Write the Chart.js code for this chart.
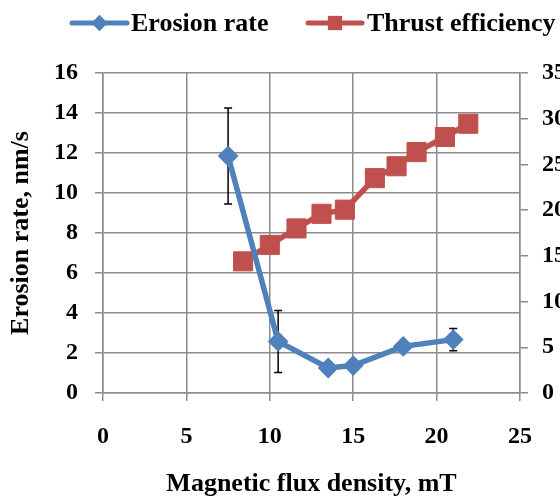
<!DOCTYPE html>
<html>
<head>
<meta charset="utf-8">
<script src="https://cdn.jsdelivr.net/npm/chart.js@4.4.1/dist/chart.umd.min.js"></script>
<style>
  html, body { margin: 0; padding: 0; background: #fff; overflow: hidden; }
  #wrap { width: 560px; height: 500px; overflow: hidden; }
</style>
</head>
<body>
<div id="wrap"><canvas id="graphique" width="600" height="500"></canvas></div>
<script>
// values
var erosionX = [7.5, 10.5, 13.5, 15, 18, 21];
var erosionY = [11.85, 2.58, 1.25, 1.37, 2.33, 2.67];
var erosionErr = [2.4, 1.55, 0, 0, 0, 0.56];

var thrustX = [8.4, 10.0, 11.6, 13.1, 14.5, 16.3, 17.6, 18.8, 20.5, 21.9];
var thrustY = [14.4, 16.2, 18.0, 19.6, 20.05, 23.5, 24.8, 26.35, 28.0, 29.45];

var seriesNames = ["Erosion rate", "Thrust efficiency"];
var xTitle = "Magnetic flux density, mT";
var yTitle = "Erosion rate, nm/s";

var blue = "#4F81BD";
var red = "#C0504D";
var gridCol = "#8c8c8c";
var fontFam = "'Liberation Serif', 'Times New Roman', serif";

function pts(xs, ys) {
  var out = [];
  for (var i = 0; i < xs.length; i++) out.push({ x: xs[i], y: ys[i] });
  return out;
}

// error bars under the markers
var errorBars = {
  id: "errorBars",
  beforeDatasetsDraw: function (chart) {
    var ctx = chart.ctx;
    var xs = chart.scales.x, ys = chart.scales.y;
    ctx.save();
    ctx.strokeStyle = "#000";
    ctx.lineWidth = 1.5;
    for (var i = 0; i < erosionX.length; i++) {
      if (!erosionErr[i]) continue;
      var px = xs.getPixelForValue(erosionX[i]);
      var top = ys.getPixelForValue(erosionY[i] + erosionErr[i]);
      var bot = ys.getPixelForValue(erosionY[i] - erosionErr[i]);
      ctx.beginPath();
      ctx.moveTo(px, top); ctx.lineTo(px, bot);
      ctx.moveTo(px - 4, top); ctx.lineTo(px + 4, top);
      ctx.moveTo(px - 4, bot); ctx.lineTo(px + 4, bot);
      ctx.stroke();
    }
    ctx.restore();
  }
};

// legend as in the original: line with marker, then bold text
var topLegend = {
  id: "topLegend",
  afterDraw: function (chart) {
    var ctx = chart.ctx;
    var y = 23;
    var items = [
      { x0: 72, x1: 127, col: blue, style: "rectRot", r: 8, text: seriesNames[0], tx: 131 },
      { x0: 308, x1: 362, col: red, style: "rect", r: 10, text: seriesNames[1], tx: 367 }
    ];
    ctx.save();
    items.forEach(function (it) {
      ctx.strokeStyle = it.col;
      ctx.lineWidth = 5;
      ctx.lineCap = "round";
      ctx.beginPath();
      ctx.moveTo(it.x0, y); ctx.lineTo(it.x1, y);
      ctx.stroke();
      ctx.fillStyle = it.col;
      Chart.helpers.drawPoint(ctx, { pointStyle: it.style, radius: it.r, borderWidth: 0 }, (it.x0 + it.x1) / 2, y);
      ctx.fill();
      ctx.fillStyle = "#000";
      ctx.font = "bold 26px " + fontFam;
      ctx.textBaseline = "middle";
      ctx.textAlign = "left";
      ctx.fillText(it.text, it.tx, y + 1);
    });
    ctx.restore();
  }
};

new Chart(document.getElementById("graphique"), {
  type: "scatter",
  data: {
    datasets: [
      {
        label: seriesNames[0],
        data: pts(erosionX, erosionY),
        showLine: true,
        borderColor: blue,
        backgroundColor: blue,
        borderWidth: 5.5,
        pointStyle: "rectRot",
        pointRadius: 9,
        pointBorderWidth: 2,
        pointHoverRadius: 9,
        yAxisID: "y"
      },
      {
        label: seriesNames[1],
        data: pts(thrustX, thrustY),
        showLine: true,
        borderColor: red,
        backgroundColor: red,
        borderWidth: 5.5,
        pointStyle: "rect",
        pointRadius: 13.5,
        pointBorderWidth: 1,
        pointHoverRadius: 13.5,
        yAxisID: "y2"
      }
    ]
  },
  options: {
    responsive: false,
    devicePixelRatio: 1,
    animation: false,
    layout: { padding: { top: 73, left: 0, right: 0, bottom: 0 } },
    plugins: {
      legend: { display: false },
      tooltip: { enabled: false }
    },
    scales: {
      x: {
        type: "linear",
        min: 0, max: 25,
        ticks: { stepSize: 5, color: "#000", padding: 21, font: { family: fontFam, size: 24, weight: "bold" } },
        grid: { color: gridCol, lineWidth: 1.5, tickLength: 8 },
        border: { color: gridCol, width: 1.5 },
        title: { display: true, text: xTitle, color: "#000", padding: { top: 0, bottom: 0 }, font: { family: fontFam, size: 26, weight: "bold" } },
        afterFit: function (s) { s.height = 107; }
      },
      y: {
        position: "left",
        min: 0, max: 16,
        ticks: { stepSize: 2, color: "#000", padding: 17, font: { family: fontFam, size: 24, weight: "bold" } },
        grid: { color: gridCol, lineWidth: 1.5, tickLength: 8 },
        border: { color: gridCol, width: 1.5 },
        title: { display: true, text: yTitle, color: "#000", padding: { top: 6, bottom: 0 }, font: { family: fontFam, size: 26, weight: "bold" } },
        afterFit: function (s) { s.width = 103; }
      },
      y2: {
        position: "right",
        min: 0, max: 35,
        ticks: { stepSize: 5, color: "#000", padding: 14, font: { family: fontFam, size: 24, weight: "bold" } },
        grid: { drawOnChartArea: false, color: gridCol, lineWidth: 1.5, tickLength: 8 },
        border: { color: gridCol, width: 1.5 },
        afterFit: function (s) { s.width = 80; }
      }
    }
  },
  plugins: [errorBars, topLegend]
});
</script>
</body>
</html>
